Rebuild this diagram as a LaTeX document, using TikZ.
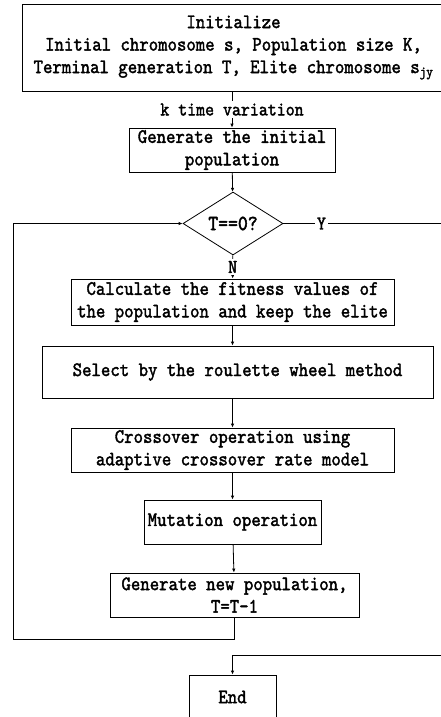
\documentclass[tikz,border=0pt]{standalone}
\usepackage{fontspec}
\newfontfamily\flowfont{lmmono10-regular.otf}[FakeBold=1.8,FakeStretch=0.875]
\usetikzlibrary{arrows.meta}
\usetikzlibrary{shapes.geometric}
\tikzset{> = {Latex[length=4pt,width=3.5pt]}, color=black!75}

\begin{document}
\begin{tikzpicture}[x=1pt,y=-1pt,inner sep=0,line width=.8pt,
	box/.style={draw,align=center,font=\flowfont\fontsize{20.5}{22.5}\selectfont,text=black},
	lbl/.style={fill=white,inner sep=2pt,font=\flowfont\fontsize{19.5}{20}\selectfont,text=black}]
	\useasboundingbox (0,0) rectangle (441,717);
	\node[box,minimum width=423,minimum height=87] (init) at (233.5,47.5){Initialize\\Initial chromosome s, Population size K,\\Terminal generation T, Elite chromosome s\textsubscript{jy}};
	\node[box,minimum width=206,minimum height=44] (gen) at (232,150){Generate the initial\\population};
	\node[box,diamond,minimum width=100,minimum height=59,font=\flowfont\fontsize{21.5}{22}\selectfont] (test) at (233,223.5){T==0?};
	\node[box,minimum width=323,minimum height=46] (fit) at (232.5,302){Calculate the fitness values of\\the population and keep the elite};
	\node[box,minimum width=391,minimum height=52] (sel) at (237.5,372){Select by the roulette wheel method};
	\node[box,minimum width=323,minimum height=44] (cross) at (232.5,450){Crossover operation using\\adaptive crossover rate model};
	\node[box,minimum width=177,minimum height=44] (mut) at (232.5,522){Mutation operation};
	\node[box,minimum width=249,minimum height=44] (newpop) at (234.5,595){Generate new population,\\T=T-1};
	\node[box,minimum width=87,minimum height=44] (end) at (232.5,697){End};
	\coordinate (yr) at (442,223.5);
	\coordinate (yb) at (442,655);
	\coordinate (lb) at (13,639);
	\draw[->] (init.south -| gen.north)--node[lbl,midway]{k time variation}(gen);
	\draw[->] (gen)--(test);
	\draw[->] (test)--node[lbl,pos=.5]{N}(fit);
	\draw[->] (fit.south)--(fit.south |- sel.north);
	\draw[->] (sel.south -| fit.south)--(cross);
	\draw[->] (cross)--(mut);
	\draw[->] (mut)--(newpop);
	\draw[->] (newpop.south)|-(lb)|-(test.west);
	\draw[->] (test.east)--node[lbl,pos=.24]{Y}(yr)--(yb)-|(end.north);
\end{tikzpicture}
\end{document}
